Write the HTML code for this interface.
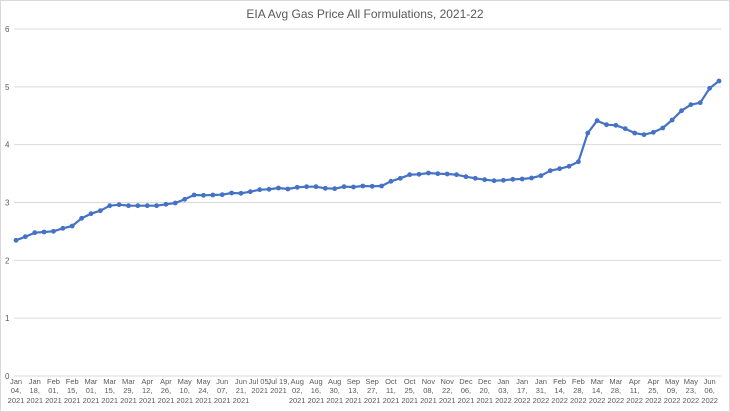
<!DOCTYPE html>
<html><head><meta charset="utf-8"><style>
body{margin:0;background:#fff}
svg{display:block;font-family:"Liberation Sans",sans-serif}
</style></head><body>
<svg width="730" height="412" viewBox="0 0 730 412" xmlns="http://www.w3.org/2000/svg">
<rect x="0.5" y="0.5" width="729" height="411" fill="#fff" stroke="#d9d9d9"/>
<text x="365" y="18" text-anchor="middle" font-size="12" fill="#595959">EIA Avg Gas Price All Formulations, 2021-22</text>
<g stroke="#d9d9d9" stroke-width="1" id="grid"></g>
<g font-size="8" fill="#595959" id="ylab"></g>
<g font-size="7.5" fill="#595959" text-anchor="middle" id="xlab"></g>
<polyline id="line" fill="none" stroke="#4472c4" stroke-width="2.2" stroke-linejoin="round"/>
<g id="dots" fill="#4472c4"></g>
</svg>
<script>
var ys=[240.3,236.7,232.7,232,231.3,228.3,226,218.3,213.7,210.7,205.7,204.7,205.7,205.7,205.7,205.7,204.3,203,199.3,195,195.3,195,194.7,193,193.3,191.7,189.7,189.3,188,189,187.3,186.7,186.7,188.3,188.7,186.7,187,186,186.3,186,181.3,178.3,174.7,174.3,173,173.7,174,174.7,176.7,178.3,179.7,180.7,180.3,179.3,179,178,175.7,170.7,168.7,166.3,161.7,133,120.7,124.7,125.3,128.7,133,134.7,132.3,128,120,110.7,104.7,102.7,88.3,81];
var NS="http://www.w3.org/2000/svg";
function el(t,a,p,txt){var e=document.createElementNS(NS,t);for(var k in a)e.setAttribute(k,a[k]);if(txt!=null)e.textContent=txt;document.getElementById(p).appendChild(e);return e;}
for(var v=0;v<=6;v++){var y=376-v*57.83;el('line',{x1:14,x2:721,y1:y,y2:y},'grid');el('text',{x:5,y:y+3},'ylab',v);}
var step=(719-16)/75;
var pts=[];for(var i=0;i<ys.length;i++){var x=16+i*step;pts.push(x.toFixed(1)+','+ys[i]);el('circle',{cx:x,cy:ys[i],r:2.4},'dots');}
document.getElementById('line').setAttribute('points',pts.join(' '));
var mon=['Jan','Feb','Mar','Apr','May','Jun','Jul','Aug','Sep','Oct','Nov','Dec'];
var d=new Date(Date.UTC(2021,0,4));
for(var k=0;k<38;k++){var x=16+k*2*step;var m=mon[d.getUTCMonth()],dd=('0'+d.getUTCDate()).slice(-2),yr=d.getUTCFullYear();
if(m=='Jul'){el('text',{x:x,y:384},'xlab',m+' '+dd+',');el('text',{x:x,y:393},'xlab',yr);}
else{el('text',{x:x,y:384},'xlab',m);el('text',{x:x,y:393},'xlab',dd+',');el('text',{x:x,y:403},'xlab',yr);}
d=new Date(d.getTime()+14*86400000);}
</script>
</body></html>
